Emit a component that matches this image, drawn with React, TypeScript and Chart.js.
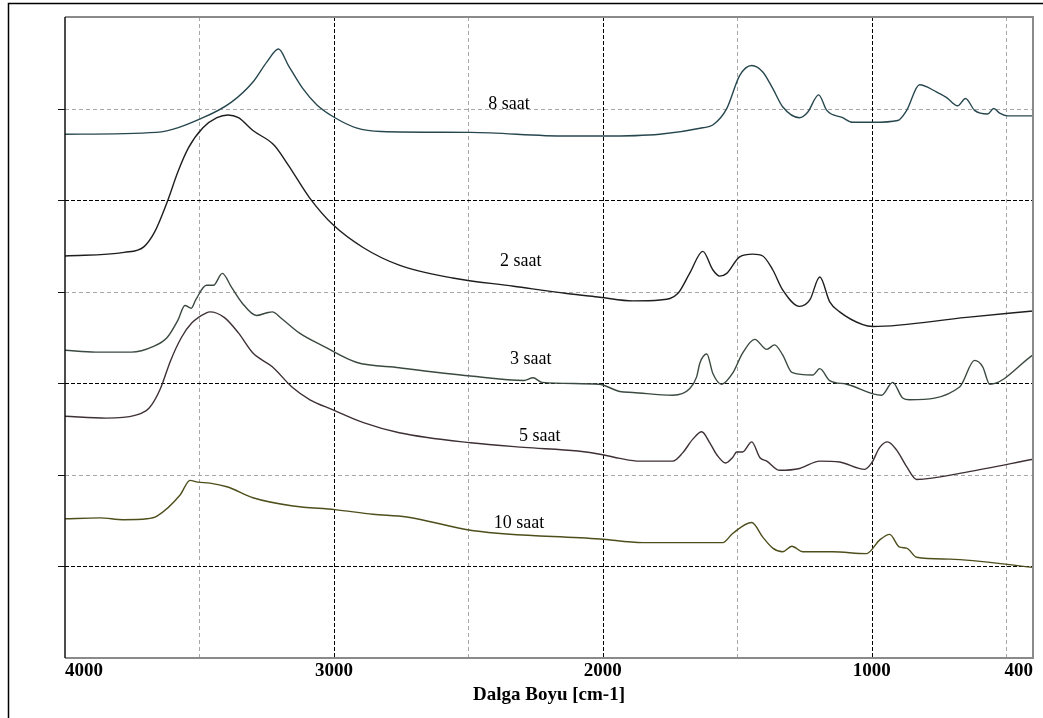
import React, { useEffect, useRef } from "react";
import { Chart, registerables } from "chart.js";

Chart.register(...registerables);

// ---- Data (wavenumber cm-1, relative transmittance units) ----
const WN_8 = [4000, 3660, 3487, 3381, 3301, 3249, 3206, 3169, 3116, 3063, 2996, 2917, 2824, 2492, 2134, 2000, 1788, 1628, 1591, 1539, 1491, 1446, 1405, 1368, 1331, 1268, 1238, 1197, 1167, 1108, 1071, 996, 903, 870, 822, 758, 721, 680, 651, 617, 569, 546, 524, 494, 400];
const T_8 = [5.72, 5.74, 5.90, 6.07, 6.29, 6.51, 6.65, 6.47, 6.22, 6.04, 5.90, 5.79, 5.75, 5.74, 5.70, 5.70, 5.72, 5.79, 5.82, 6.00, 6.36, 6.47, 6.40, 6.22, 6.02, 5.90, 5.96, 6.15, 5.98, 5.90, 5.85, 5.85, 5.87, 5.98, 6.26, 6.18, 6.12, 6.03, 6.11, 5.98, 5.94, 6.00, 5.95, 5.92, 5.92];

const WN_2 = [4000, 3780, 3707, 3667, 3620, 3580, 3541, 3487, 3435, 3394, 3355, 3301, 3222, 3169, 3089, 3003, 2890, 2757, 2558, 2332, 2134, 2011, 1888, 1788, 1721, 1677, 1628, 1591, 1565, 1539, 1491, 1442, 1405, 1368, 1331, 1268, 1230, 1193, 1156, 1119, 1033, 996, 647, 400];
const T_2 = [4.39, 4.43, 4.49, 4.65, 4.98, 5.31, 5.57, 5.79, 5.90, 5.93, 5.90, 5.76, 5.60, 5.38, 5.02, 4.73, 4.48, 4.29, 4.15, 4.06, 3.98, 3.94, 3.90, 3.91, 3.98, 4.20, 4.44, 4.24, 4.17, 4.20, 4.38, 4.41, 4.39, 4.24, 4.02, 3.84, 3.91, 4.16, 3.89, 3.78, 3.64, 3.62, 3.72, 3.79];

const WN_3 = [4000, 3886, 3753, 3673, 3620, 3580, 3554, 3530, 3514, 3474, 3448, 3415, 3381, 3342, 3288, 3249, 3229, 3196, 3129, 3036, 2917, 2757, 2492, 2293, 2259, 2226, 2014, 1937, 1888, 1740, 1677, 1651, 1639, 1613, 1591, 1558, 1517, 1480, 1435, 1390, 1361, 1331, 1297, 1219, 1193, 1156, 1093, 963, 922, 885, 859, 673, 617, 587, 561, 400];
const T_3 = [3.36, 3.34, 3.34, 3.40, 3.50, 3.69, 3.85, 3.82, 3.91, 4.07, 4.07, 4.20, 4.05, 3.88, 3.74, 3.77, 3.78, 3.71, 3.55, 3.40, 3.23, 3.17, 3.08, 3.03, 3.06, 3.01, 2.99, 2.91, 2.90, 2.87, 2.94, 3.07, 3.22, 3.32, 3.11, 2.99, 3.11, 3.33, 3.48, 3.37, 3.42, 3.31, 3.12, 3.09, 3.16, 3.03, 2.99, 2.87, 3.01, 2.84, 2.82, 2.96, 3.25, 3.18, 2.99, 3.31];

const WN_5 = [4000, 3846, 3740, 3687, 3647, 3607, 3567, 3528, 3474, 3461, 3408, 3355, 3301, 3229, 3156, 3089, 3003, 2890, 2757, 2492, 2293, 2093, 2000, 1937, 1862, 1740, 1703, 1665, 1632, 1602, 1576, 1543, 1517, 1502, 1480, 1446, 1416, 1390, 1342, 1268, 1193, 1119, 1026, 1000, 970, 941, 907, 870, 833, 647, 400];
const T_5 = [2.64, 2.62, 2.65, 2.73, 2.93, 3.25, 3.50, 3.66, 3.77, 3.78, 3.72, 3.55, 3.33, 3.18, 2.96, 2.82, 2.71, 2.57, 2.46, 2.35, 2.30, 2.26, 2.22, 2.18, 2.15, 2.15, 2.24, 2.39, 2.47, 2.35, 2.22, 2.13, 2.19, 2.25, 2.25, 2.36, 2.19, 2.15, 2.05, 2.07, 2.15, 2.14, 2.06, 2.13, 2.30, 2.36, 2.27, 2.09, 1.95, 2.03, 2.17];

const WN_10 = [4000, 3870, 3784, 3695, 3658, 3572, 3535, 3506, 3461, 3398, 3301, 3152, 2996, 2855, 2729, 2480, 2011, 1851, 1554, 1517, 1446, 1405, 1368, 1331, 1297, 1256, 1145, 1019, 970, 933, 896, 870, 833, 710, 400];
const T_10 = [1.52, 1.53, 1.51, 1.52, 1.55, 1.78, 1.94, 1.92, 1.91, 1.87, 1.75, 1.66, 1.62, 1.57, 1.54, 1.39, 1.30, 1.26, 1.26, 1.36, 1.48, 1.32, 1.20, 1.16, 1.22, 1.16, 1.16, 1.14, 1.29, 1.35, 1.21, 1.20, 1.10, 1.08, 0.99];

const SERIES_NAMES = ["8 saat", "2 saat", "3 saat", "5 saat", "10 saat"];
const SERIES_WN = [WN_8, WN_2, WN_3, WN_5, WN_10];
const SERIES_T = [T_8, T_2, T_3, T_5, T_10];
const SERIES_COLORS = ["#27474f", "#1e1e1e", "#3b4a40", "#3d3036", "#4e4e1c"];

// curve label anchors (wavenumber, value)
const LABEL_WN = [2349, 2305, 2268, 2234, 2312];
const LABEL_T = [6.05, 4.33, 3.26, 2.42, 1.47];

const X_TICKS = [400, 1000, 2000, 3000, 4000];
const GRID_X_MAJOR = [3000, 2000, 1000];
const GRID_X_MINOR = [3500, 2500, 1500, 500];
const GRID_Y_MAJOR = [1, 3, 5];
const GRID_Y_MINOR = [2, 4, 6];

const decor = {
  id: "decor",
  beforeDraw(chart: any) {
    const ctx = chart.ctx;
    ctx.save();
    ctx.fillStyle = "#ffffff";
    ctx.fillRect(0, 0, chart.width, chart.height);
    ctx.restore();
  },
  beforeDatasetsDraw(chart: any) {
    const { ctx, chartArea: a, scales } = chart;
    const xs = scales.x;
    const ys = scales.y;
    ctx.save();
    ctx.lineWidth = 1;
    const vline = (v: number, color: string, dash: number[]) => {
      const px = Math.round(xs.getPixelForValue(v)) + 0.5;
      ctx.strokeStyle = color;
      ctx.setLineDash(dash);
      ctx.beginPath();
      ctx.moveTo(px, a.top);
      ctx.lineTo(px, a.bottom);
      ctx.stroke();
    };
    const hline = (v: number, color: string, dash: number[]) => {
      const py = Math.round(ys.getPixelForValue(v)) + 0.5;
      ctx.strokeStyle = color;
      ctx.setLineDash(dash);
      ctx.beginPath();
      ctx.moveTo(a.left, py);
      ctx.lineTo(a.right, py);
      ctx.stroke();
    };
    GRID_X_MINOR.forEach((v) => vline(v, "#a8a8a8", [4, 3]));
    GRID_Y_MINOR.forEach((v) => hline(v, "#a8a8a8", [4, 3]));
    GRID_X_MAJOR.forEach((v) => vline(v, "#000000", [4, 2]));
    GRID_Y_MAJOR.forEach((v) => hline(v, "#000000", [4, 2]));
    ctx.restore();
  },
  afterDatasetsDraw(chart: any) {
    const { ctx, chartArea: a, scales } = chart;
    const xs = scales.x;
    const ys = scales.y;
    ctx.save();
    ctx.setLineDash([]);
    // outer frame
    ctx.strokeStyle = "#000";
    ctx.lineWidth = 1.5;
    ctx.beginPath();
    ctx.moveTo(8.5, chart.height);
    ctx.lineTo(8.5, 3.5);
    ctx.lineTo(chart.width, 3.5);
    ctx.stroke();
    // plot borders
    ctx.strokeStyle = "#8a8a8a";
    ctx.lineWidth = 2;
    ctx.beginPath();
    ctx.moveTo(a.left, a.top);
    ctx.lineTo(a.right, a.top);
    ctx.lineTo(a.right, a.bottom);
    ctx.lineTo(a.left, a.bottom);
    ctx.stroke();
    ctx.strokeStyle = "#111";
    ctx.lineWidth = 1.5;
    ctx.beginPath();
    ctx.moveTo(a.left, a.top);
    ctx.lineTo(a.left, a.bottom);
    ctx.stroke();
    // left tick marks
    ctx.lineWidth = 1;
    [...GRID_Y_MAJOR, ...GRID_Y_MINOR].forEach((v) => {
      const py = Math.round(ys.getPixelForValue(v)) + 0.5;
      ctx.beginPath();
      ctx.moveTo(a.left - 7, py);
      ctx.lineTo(a.left, py);
      ctx.stroke();
    });
    // curve labels
    ctx.fillStyle = "#000";
    ctx.font = '18px "Liberation Serif"';
    ctx.textAlign = "center";
    ctx.textBaseline = "middle";
    SERIES_NAMES.forEach((n, i) => {
      ctx.fillText(n, xs.getPixelForValue(LABEL_WN[i]), ys.getPixelForValue(LABEL_T[i]));
    });
    ctx.restore();
  },
};

export default function App() {
  const ref = useRef<HTMLCanvasElement | null>(null);
  useEffect(() => {
    if (!ref.current) return;
    const datasets = SERIES_NAMES.map((name, i) => ({
      label: name,
      data: SERIES_WN[i].map((w, j) => ({ x: w, y: SERIES_T[i][j] })),
      borderColor: SERIES_COLORS[i],
      borderWidth: 1.4,
      pointRadius: 0,
      fill: false,
      cubicInterpolationMode: "monotone" as const,
    }));
    const chart = new Chart(ref.current, {
      type: "line",
      data: { datasets },
      plugins: [decor],
      options: {
        animation: false,
        responsive: false,
        devicePixelRatio: 1,
        layout: { padding: { left: 65, right: 10, top: 17, bottom: 0 } },
        plugins: { legend: { display: false }, tooltip: { enabled: false } },
        scales: {
          x: {
            type: "linear",
            min: 400,
            max: 4000,
            reverse: true,
            grid: { display: false, drawTicks: false },
            border: { display: false },
            afterBuildTicks: (s: any) => {
              s.ticks = X_TICKS.map((v) => ({ value: v }));
            },
            afterFit: (s: any) => {
              s.height = 60;
            },
            ticks: {
              autoSkip: false,
              maxRotation: 0,
              align: "inner",
              padding: 2,
              color: "#000",
              font: { family: '"Liberation Serif"', size: 19, weight: "bold" },
              callback: (v: any) => String(v),
            },
            title: {
              display: true,
              text: "Dalga Boyu [cm-1]",
              color: "#000",
              font: { family: '"Liberation Serif"', size: 19, weight: "bold" },
              padding: { top: 0, bottom: 12 },
            },
          },
          y: {
            type: "linear",
            min: 0,
            max: 7,
            display: false,
          },
        },
      },
    });
    return () => chart.destroy();
  }, []);
  return (
    <div style={{ position: "fixed", left: 0, top: 0, width: 1043, height: 718, background: "#fff" }}>
      <canvas ref={ref} width={1043} height={718} />
    </div>
  );
}
